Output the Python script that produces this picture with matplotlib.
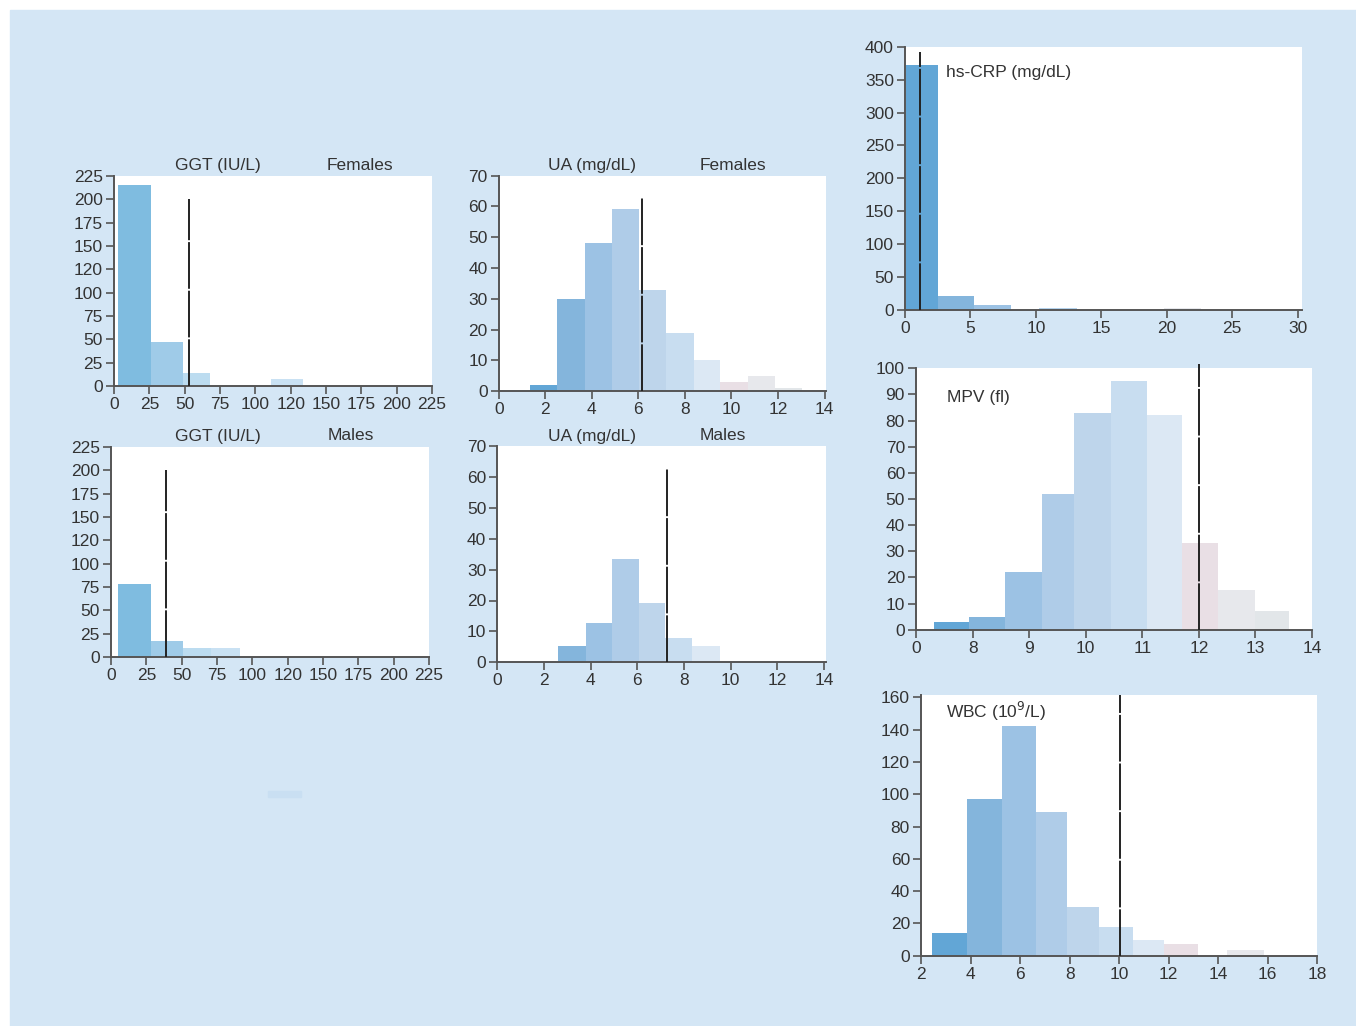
import matplotlib
matplotlib.use('Agg')
import matplotlib.pyplot as plt
from matplotlib.patches import Rectangle

plt.rcParams['font.family'] = ['Liberation Sans', 'DejaVu Sans']

W, H = 1356, 1026
BG = '#d4e6f5'
TXT = '#333333'
AX = '#555555'
FS = 12.5

# shades used for the bins (dark blue -> pale -> pink -> grey)
shades = ['#62a6d6', '#84b5dc', '#9cc2e4', '#afcce8', '#bed5eb',
          '#c8ddf0', '#dce8f4', '#e9dfe5', '#e7e8ec', '#e2e6e9']
ggt_shades = ['#7fbce0', '#9fcbe8', '#bcdcf0', '#c9e1f3']

# ---- data ----
ggt_f_left = [3, 26, 49, 111]
ggt_f_right = [26, 49, 68, 134]
ggt_f_count = [215, 47, 14, 7]
ggt_f_cut = 53

ggt_m_left = [5, 28, 51, 71]
ggt_m_right = [28, 51, 71, 91]
ggt_m_count = [78, 17, 10, 10]
ggt_m_cut = 39

ggt_ticks = [0, 25, 50, 75, 100, 125, 150, 175, 200, 225]
ggt_labels = ['0', '25', '50', '75', '100', '120', '150', '175', '200', '225']

ua_f_edges = [1.35, 2.52, 3.69, 4.87, 6.03, 7.19, 8.39, 9.5, 10.69, 11.87, 13.03]
ua_f_count = [2, 30, 48, 59, 33, 19, 10, 3, 5, 1]
ua_f_cut = 6.14

ua_m_edges = [2.59, 3.79, 4.93, 6.07, 7.19, 8.34, 9.54]
ua_m_count = [5.3, 12.7, 33.4, 19.2, 7.9, 5.3]
ua_m_cut = 7.26

crp_left = [0.05, 2.52, 5.28, 10.25, 19.8]
crp_right = [2.52, 5.28, 8.1, 13.15, 22.6]
crp_count = [372, 21, 8, 3, 3]
crp_cut = 1.15

mpv_edges = [7.32, 7.93, 8.57, 9.22, 9.80, 10.45, 11.08, 11.71, 12.33, 12.99, 13.60]
mpv_count = [3, 5, 22, 52, 83, 95, 82, 33, 15, 7]
mpv_cut = 12.0
mpv_ticks = [7, 8, 9, 10, 11, 12, 13, 14]
mpv_labels = ['0', '8', '9', '10', '11', '12', '13', '14']

wbc_left = [2.44, 3.86, 5.27, 6.64, 7.90, 9.19, 10.56, 11.81, 14.36]
wbc_right = [3.86, 5.27, 6.64, 7.90, 9.19, 10.56, 11.81, 13.18, 15.85]
wbc_count = [14, 97, 142, 89, 30, 18, 10, 7, 3.5]
wbc_cut = 10.02


def box(l, t, r, b):
    return [l / W, 1 - b / H, (r - l) / W, (b - t) / H]


def make_ax(fig, l, t, r, b):
    ax = fig.add_axes(box(l, t, r, b))
    ax.set_facecolor('white')
    for s in ['top', 'right']:
        ax.spines[s].set_visible(False)
    for s in ['left', 'bottom']:
        ax.spines[s].set_color(AX)
        ax.spines[s].set_linewidth(1.4)
    ax.tick_params(direction='out', length=6, width=1.2, color=AX,
                   labelsize=FS, labelcolor=TXT, pad=2)
    return ax


def draw_bars(ax, lefts, rights, counts, colors):
    widths = [r - l for l, r in zip(lefts, rights)]
    ax.bar(lefts, counts, width=widths, align='edge', color=colors, linewidth=0)


def cut_line(ax, x, top):
    ax.plot([x, x], [0, top], color='#222222', lw=1.4, dashes=(24, 1),
            clip_on=False, zorder=5)


def ftext(x, y, s, ha='center'):
    fig.text(x / W, 1 - y / H, s, ha=ha, va='center', fontsize=FS, color=TXT)


fig = plt.figure(figsize=(W / 100, H / 100), dpi=100)
fig.patch.set_facecolor('white')
fig.patches.append(Rectangle((10 / W, 0), 1 - 10 / W, 1 - 10 / H,
                             transform=fig.transFigure, color=BG, zorder=-10))
fig.patches.append(Rectangle((268 / W, 1 - 797 / H), 33 / W, 6 / H,
                             transform=fig.transFigure, color='#c9dff2', zorder=-9))

# GGT females
ax = make_ax(fig, 114, 176, 432, 386)
draw_bars(ax, ggt_f_left, ggt_f_right, ggt_f_count, ggt_shades)
cut_line(ax, ggt_f_cut, 200)
ax.set_xlim(0, 225)
ax.set_ylim(0, 225)
ax.set_xticks(ggt_ticks, ggt_labels)
ax.set_yticks(ggt_ticks, ggt_labels)
ftext(218, 166, 'GGT (IU/L)')
ftext(360, 166, 'Females')

# GGT males
ax = make_ax(fig, 111, 447, 429, 657)
draw_bars(ax, ggt_m_left, ggt_m_right, ggt_m_count, ggt_shades)
cut_line(ax, ggt_m_cut, 200)
ax.set_xlim(0, 225)
ax.set_ylim(0, 225)
ax.set_xticks(ggt_ticks, ggt_labels)
ax.set_yticks(ggt_ticks, ggt_labels)
ftext(218, 436, 'GGT (IU/L)')
ftext(351, 436, 'Males')

# UA females
ax = make_ax(fig, 498.7, 175.5, 826, 391.3)
draw_bars(ax, ua_f_edges[:-1], ua_f_edges[1:], ua_f_count, shades)
cut_line(ax, ua_f_cut, 62.8)
ax.set_xlim(0, 14.06)
ax.set_ylim(0, 70)
ax.set_xticks(range(0, 15, 2))
ax.set_yticks(range(0, 71, 10))
ftext(592, 166, 'UA (mg/dL)')
ftext(733, 166, 'Females')

# UA males
ax = make_ax(fig, 497.3, 446, 826, 662.3)
draw_bars(ax, ua_m_edges[:-1], ua_m_edges[1:], ua_m_count, shades[1:7])
cut_line(ax, ua_m_cut, 62.8)
ax.set_xlim(0, 14.09)
ax.set_ylim(0, 70)
ax.set_xticks(range(0, 15, 2))
ax.set_yticks(range(0, 71, 10))
ftext(592, 436, 'UA (mg/dL)')
ftext(723, 436, 'Males')

# hs-CRP
ax = make_ax(fig, 905, 46.7, 1302, 310)
draw_bars(ax, crp_left, crp_right, crp_count,
          [shades[0], shades[1], shades[2], '#b4d2ec', shades[8]])
cut_line(ax, crp_cut, 392)
ax.set_xlim(0, 30.34)
ax.set_ylim(0, 400)
ax.set_xticks(range(0, 31, 5))
ax.set_yticks(range(0, 401, 50))
ftext(946, 73, 'hs-CRP (mg/dL)', ha='left')

# MPV
ax = make_ax(fig, 916, 368.3, 1312, 629.7)
draw_bars(ax, mpv_edges[:-1], mpv_edges[1:], mpv_count, shades)
cut_line(ax, mpv_cut, 101.5)
ax.set_xlim(7, 14)
ax.set_ylim(0, 100)
ax.set_xticks(mpv_ticks, mpv_labels)
ax.set_yticks(range(0, 101, 10))
ftext(947, 398, 'MPV (fl)', ha='left')

# WBC
ax = make_ax(fig, 921, 695, 1317.3, 955.7)
draw_bars(ax, wbc_left, wbc_right, wbc_count, shades[:9])
cut_line(ax, wbc_cut, 161.5)
ax.set_xlim(2, 18)
ax.set_ylim(0, 161.5)
ax.set_xticks(range(2, 19, 2))
ax.set_yticks(range(0, 161, 20))
ftext(946, 711, 'WBC (10$^9$/L)', ha='left')

fig.savefig('out.png', dpi=100)
